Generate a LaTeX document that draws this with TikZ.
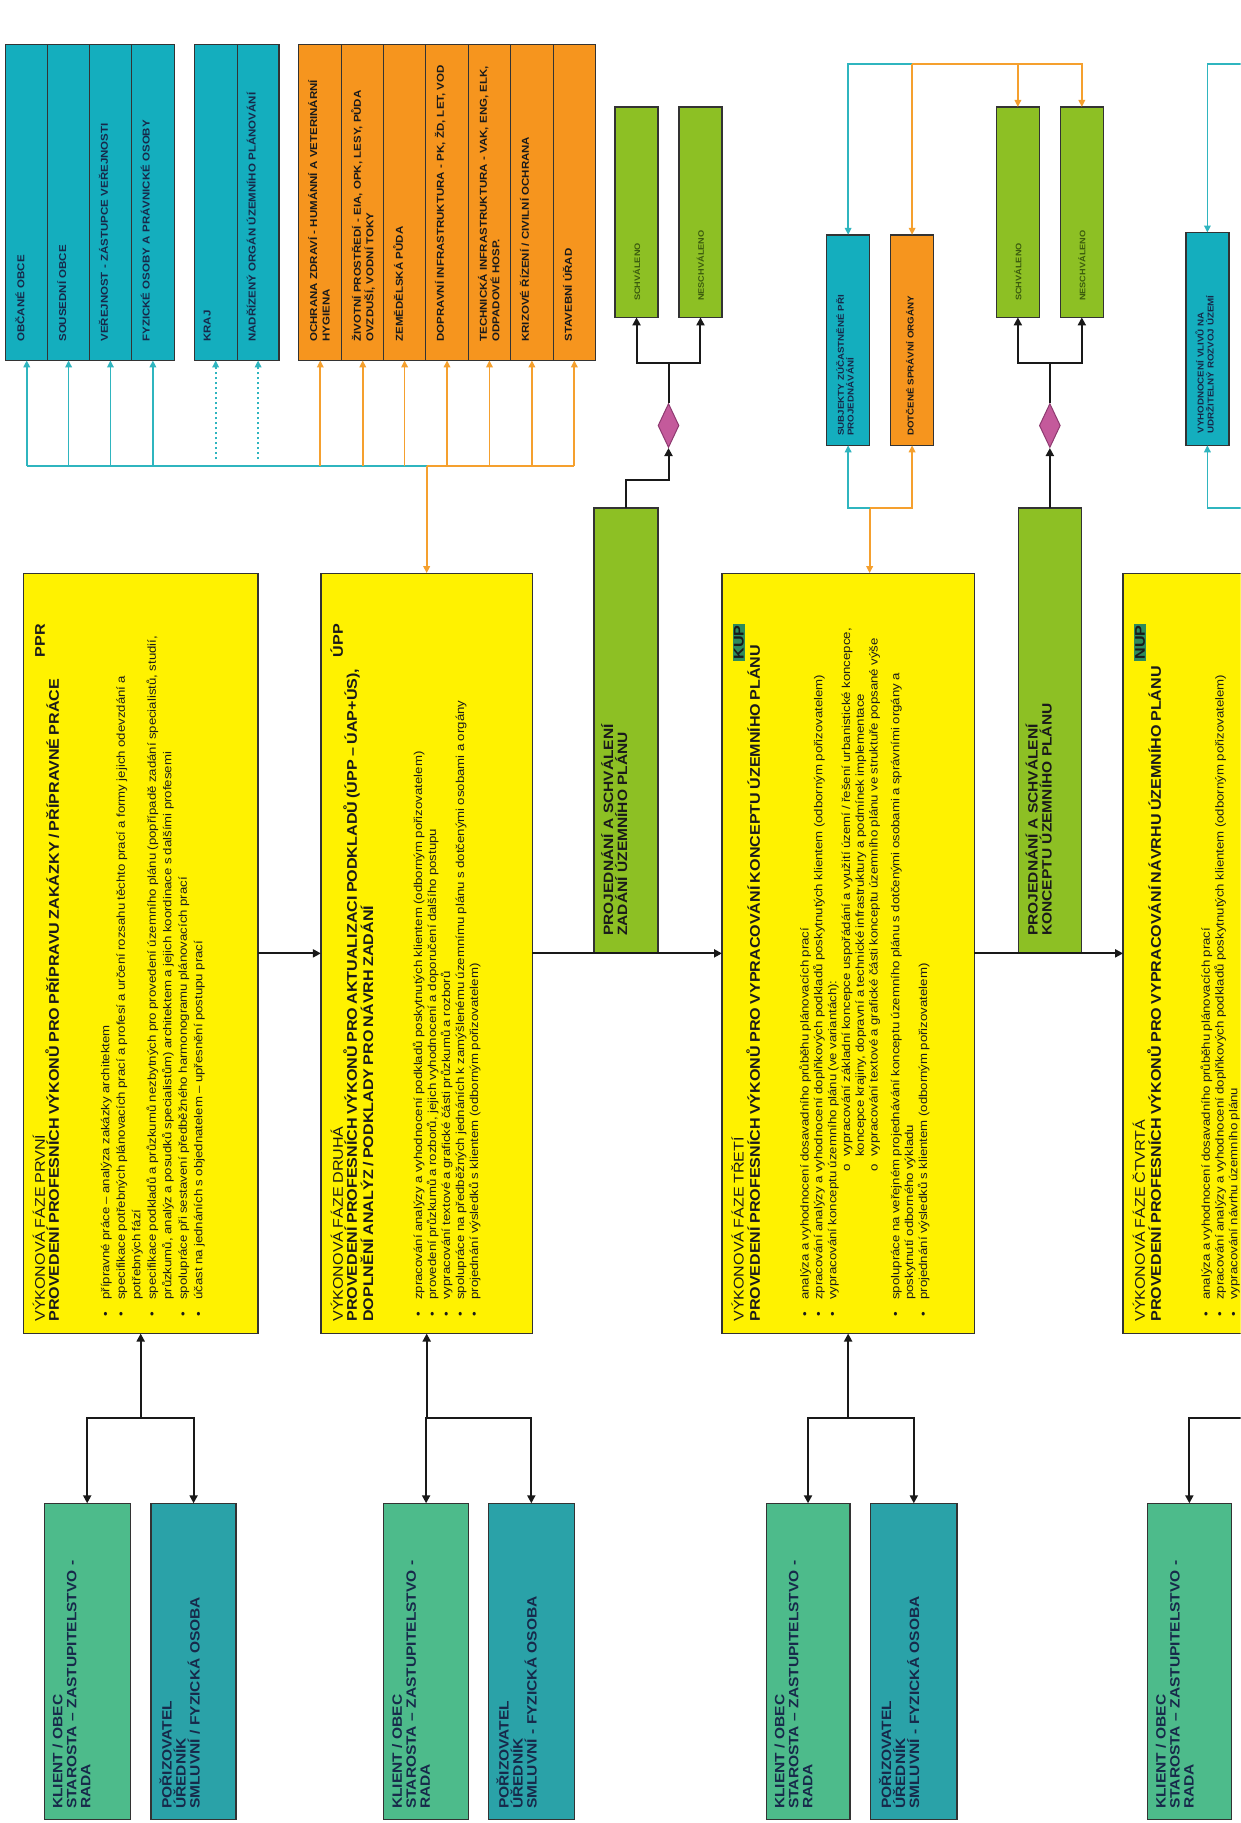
\documentclass[tikz,border=0pt]{standalone}
\usepackage{fontspec}
\setmainfont[FakeStretch=1.15]{Liberation Sans}
\usetikzlibrary{fit,shapes.geometric,arrows.meta,calc}
\definecolor{yel}{HTML}{FFF200}
\definecolor{cyF}{HTML}{14AEBE}
\definecolor{orF}{HTML}{F6951E}
\definecolor{grF}{HTML}{8DC024}
\definecolor{kF}{HTML}{4DBB8B}
\definecolor{pF}{HTML}{2AA2A8}
\definecolor{diaF}{HTML}{C45A9B}
\definecolor{diaD}{HTML}{8E3A70}
\definecolor{bord}{HTML}{333333}
\definecolor{cyL}{HTML}{2FB5BF}
\definecolor{orL}{HTML}{F5A02E}
\definecolor{badge}{HTML}{2E8A5C}
\definecolor{txtD}{HTML}{1A1A1A}
\definecolor{navy}{HTML}{17294A}
\definecolor{grT}{HTML}{3B5B0E}
\hyphenpenalty=10000
\exhyphenpenalty=10000
\newcommand\fs[2]{\fontsize{#1}{#2}\selectfont}
\newcommand\rfill{\hskip 0pt plus 1filll\relax}
\newcommand\bitem[1]{\par\hangindent=22pt\hangafter=1\noindent\makebox[22pt][l]{\hspace{5pt}\textbullet}#1\par}
\newcommand\sitem[1]{\par\hangindent=165pt\hangafter=1\noindent\makebox[165pt][l]{\hspace{150pt}o}#1\par}
\newcommand\badgebox[1]{{\setlength\fboxsep{1.5pt}\colorbox{badge}{\textbf{#1}}}}

\begin{document}
\begin{tikzpicture}[x=1.1631pt,y=-1.1631pt,
  box/.style={draw=bord, line width=1.3pt, inner sep=0pt, outer sep=0pt},
  ybox/.style={box, fill=yel},
  cbox/.style={box, fill=cyF},
  obox/.style={box, fill=orF},
  gbox/.style={box, fill=grF},
  kbox/.style={box, fill=kF},
  pbox/.style={box, fill=pF},
  vtxt/.style={rotate=90, anchor=north west, inner sep=0pt, align=left, text=txtD},
  coltxt/.style={vtxt, text width=300pt, font=\fs{10}{12.5}\bfseries},
  smalltxt/.style={vtxt, text width=170pt, font=\fs{8.5}{10}\bfseries},
  ytxt/.style={vtxt, text width=698pt},
  bigtxt/.style={vtxt, text width=300pt, font=\fs{13.5}{14}\bfseries},
  gsmall/.style={rotate=90, anchor=west, inner sep=0pt, font=\fs{8}{9}\bfseries, text=grT},
  dia/.style={diamond, fill=diaF, draw=diaD, line width=1pt, minimum width=21pt, minimum height=44pt, inner sep=0pt},
  bk/.style={draw=black!90, line width=2pt},
  cl/.style={draw=cyL, line width=1.8pt},
  ol/.style={draw=orL, line width=1.8pt},
  tip/.style={-{Triangle[length=8pt,width=8pt]}},
  rtip/.style={{Triangle[length=8pt,width=8pt]}-},
  ctip/.style={-{Triangle[length=7pt,width=6.5pt]}},
  dotline/.style={dash pattern=on 2.5pt off 2.5pt}
]
\useasboundingbox (0,0) rectangle (1067,1568);
\clip (0,0) rectangle (1067,1568);
\fill[white] (0,0) rectangle (1067,1568);

% ---------- top columns ----------
\node[cbox, fit={(5,38) (41,310)}] (cA) {};
\node[cbox, fit={(41,38) (77,310)}] (cB) {};
\node[cbox, fit={(77,38) (113,310)}] (cC) {};
\node[cbox, fit={(113,38) (150,310)}] (cD) {};
\node[cbox, fit={(167,38) (204,310)}] (cE) {};
\node[cbox, fit={(204,38) (240,310)}] (cF) {};
\node[obox, fit={(257,38) (294,310)}] (oA) {};
\node[obox, fit={(294,38) (330,310)}] (oB) {};
\node[obox, fit={(330,38) (366,310)}] (oC) {};
\node[obox, fit={(366,38) (403,310)}] (oD) {};
\node[obox, fit={(403,38) (439,310)}] (oE) {};
\node[obox, fit={(439,38) (476,310)}] (oF) {};
\node[obox, fit={(476,38) (512,310)}] (oG) {};

\node[coltxt, text=navy] (cAt) at ([shift={(8,-16)}]cA.south west) {OBČANÉ OBCE};
\node[coltxt, text=navy] (cBt) at ([shift={(8,-16)}]cB.south west) {SOUSEDNÍ OBCE};
\node[coltxt, text=navy] (cCt) at ([shift={(8,-16)}]cC.south west) {VEŘEJNOST - ZÁSTUPCE VEŘEJNOSTI};
\node[coltxt, text=navy] (cDt) at ([shift={(8,-16)}]cD.south west) {FYZICKÉ OSOBY A PRÁVNICKÉ OSOBY};
\node[coltxt, text=navy] (cEt) at ([shift={(8,-16)}]cE.south west) {KRAJ};
\node[coltxt, text=navy] (cFt) at ([shift={(8,-16)}]cF.south west) {NADŘÍZENÝ ORGÁN ÚZEMNÍHO PLÁNOVÁNÍ};
\node[coltxt] (oAt) at ([shift={(8,-16)}]oA.south west) {OCHRANA ZDRAVÍ - HUMÁNNÍ A VETERINÁRNÍ\\HYGIENA};
\node[coltxt] (oBt) at ([shift={(8,-16)}]oB.south west) {ŽIVOTNÍ PROSTŘEDÍ - EIA, OPK, LESY, PŮDA\\OVZDUŠÍ, VODNÍ TOKY};
\node[coltxt] (oCt) at ([shift={(8,-16)}]oC.south west) {ZEMĚDĚLSKÁ PŮDA};
\node[coltxt] (oDt) at ([shift={(8,-16)}]oD.south west) {DOPRAVNÍ INFRASTRUKTURA - PK, ŽD, LET, VOD};
\node[coltxt] (oEt) at ([shift={(8,-16)}]oE.south west) {TECHNICKÁ INFRASTRUKTURA - VAK, ENG, ELK,\\ODPADOVÉ HOSP.};
\node[coltxt] (oFt) at ([shift={(8,-16)}]oF.south west) {KRIZOVÉ ŘÍZENÍ / CIVILNÍ OCHRANA};
\node[coltxt] (oGt) at ([shift={(8,-16)}]oG.south west) {STAVEBNÍ ÚŘAD};

% ---------- green result boxes ----------
\node[gbox, fit={(529,92) (566,273)}] (ga) {};
\node[gbox, fit={(584,92) (621,273)}] (gb) {};
\node[gbox, fit={(857,92) (894,273)}] (gc) {};
\node[gbox, fit={(912,92) (949,273)}] (gd) {};
\node[gsmall] (gat) at ($(ga.south)+(0,-14)$) {SCHVÁLENO};
\node[gsmall] (gbt) at ($(gb.south)+(0,-14)$) {NESCHVÁLENO};
\node[gsmall] (gct) at ($(gc.south)+(0,-14)$) {SCHVÁLENO};
\node[gsmall] (gdt) at ($(gd.south)+(0,-14)$) {NESCHVÁLENO};

% ---------- small side boxes ----------
\node[cbox, fit={(711,202) (748,383)}] (s1) {};
\node[obox, fit={(766,202) (803,383)}] (s2) {};
\node[cbox, fit={(1020,200) (1057,383)}] (s3) {};
\node[smalltxt, text=navy] (s1t) at ([shift={(8,-8)}]s1.south west) {SUBJEKTY ZÚČASTNĚNÉ PŘI\\PROJEDNÁVÁNÍ};
\node[smalltxt] (s2t) at ([shift={(13,-8)}]s2.south west) {DOTČENÉ SPRÁVNÍ ORGÁNY};
\node[smalltxt, text=navy] (s3t) at ([shift={(8,-10)}]s3.south west) {VYHODNOCENÍ VLIVŮ NA\\UDRŽITELNÝ ROZVOJ ÚZEMÍ};

% ---------- diamonds ----------
\node[dia] (d1) at (575,366) {};
\node[dia] (d2) at (903,366) {};

% ---------- approval boxes ----------
\node[gbox, fit={(511,437) (566,820)}] (g1) {};
\node[gbox, fit={(876,437) (930,820)}] (g2) {};
\node[bigtxt] (g1t) at ([shift={(6,-15)}]g1.south west) {PROJEDNÁNÍ A SCHVÁLENÍ\\ZADÁNÍ ÚZEMNÍHO PLÁNU};
\node[bigtxt] (g2t) at ([shift={(6,-15)}]g2.south west) {PROJEDNÁNÍ A SCHVÁLENÍ\\KONCEPTU ÚZEMNÍHO PLÁNU};

% ---------- phase boxes ----------
\node[ybox, fit={(20,493) (222,1147)}] (p1) {};
\node[ybox, fit={(276,493) (458,1147)}] (p2) {};
\node[ybox, fit={(621,493) (838,1147)}] (p3) {};
\node[ybox, fit={(966,493) (1183,1147)}] (p4) {};

\node[ytxt] (p1t) at ([shift={(8,-10)}]p1.south west) {%
{\fs{14}{14}VÝKONOVÁ FÁZE PRVNÍ\rfill\textbf{PPR}\par
\textbf{PROVEDENÍ PROFESNÍCH VÝKONŮ PRO PŘÍPRAVU ZAKÁZKY / PŘÍPRAVNÉ PRÁCE}\par}
\vspace{35pt}
{\fs{11.5}{15.5}
\bitem{přípravné práce -- analýza zakázky architektem}
\bitem{specifikace potřebných plánovacích prací a profesí a určení rozsahu těchto prací a formy jejich odevzdání a potřebných fází}
\bitem{specifikace podkladů a průzkumů nezbytných pro provedení územního plánu (popřípadě zadání specialistů, studií, průzkumů, analýz a posudků specialistům) architektem a jejich koordinace s dalšími profesemi}
\bitem{spolupráce při sestavení předběžného harmonogramu plánovacích prací}
\bitem{účast na jednáních s objednatelem -- upřesnění postupu prací}}};

\node[ytxt] (p2t) at ([shift={(8,-10)}]p2.south west) {%
{\fs{14}{14}VÝKONOVÁ FÁZE DRUHÁ\rfill\textbf{ÚPP}\par
\textbf{PROVEDENÍ PROFESNÍCH VÝKONŮ PRO AKTUALIZACI PODKLADŮ (ÚPP – ÚAP+ÚS),}\par
\textbf{DOPLNĚNÍ ANALÝZ / PODKLADY PRO NÁVRH ZADÁNÍ}\par}
\vspace{35pt}
{\fs{11.5}{14}
\bitem{zpracování analýzy a vyhodnocení podkladů poskytnutých klientem (odborným pořizovatelem)}
\bitem{provedení průzkumů a rozborů, jejich vyhodnocení a doporučení dalšího postupu}
\bitem{vypracování textové a grafické části průzkumů a rozborů}
\bitem{spolupráce na předběžných jednáních k zamýšlenému územnímu plánu s dotčenými osobami a orgány}
\bitem{projednání výsledků s klientem (odborným pořizovatelem)}}};

\node[ytxt] (p3t) at ([shift={(8,-10)}]p3.south west) {%
{\fs{14}{14}VÝKONOVÁ FÁZE TŘETÍ\rfill\badgebox{KUP}\par
\textbf{PROVEDENÍ PROFESNÍCH VÝKONŮ PRO VYPRACOVÁNÍ KONCEPTU ÚZEMNÍHO PLÁNU}\par}
\vspace{35pt}
{\fs{11.5}{13.8}
\bitem{analýza a vyhodnocení dosavadního průběhu plánovacích prací}
\bitem{zpracování analýzy a vyhodnocení doplňkových podkladů poskytnutých klientem (odborným pořizovatelem)}
\bitem{vypracování konceptu územního plánu (ve variantách):}
\sitem{vypracování základní koncepce uspořádání a využití území / řešení urbanistické koncepce, koncepce krajiny, dopravní a technické infrastruktury a podmínek implementace}
\sitem{vypracování textové a grafické části konceptu územního plánu ve struktuře popsané výše}
\vspace{8pt}
\bitem{spolupráce na veřejném projednávání konceptu územního plánu s dotčenými osobami a správními orgány a poskytnutí odborného výkladu}
\bitem{projednání výsledků s klientem (odborným pořizovatelem)}}};

\node[ytxt] (p4t) at ([shift={(8,-10)}]p4.south west) {%
{\fs{14}{14}VÝKONOVÁ FÁZE ČTVRTÁ\rfill\badgebox{NUP}\par
\textbf{PROVEDENÍ PROFESNÍCH VÝKONŮ PRO VYPRACOVÁNÍ NÁVRHU ÚZEMNÍHO PLÁNU}\par}
\vspace{35pt}
{\fs{11.5}{13.8}
\bitem{analýza a vyhodnocení dosavadního průběhu plánovacích prací}
\bitem{zpracování analýzy a vyhodnocení doplňkových podkladů poskytnutých klientem (odborným pořizovatelem)}
\bitem{vypracování návrhu územního plánu}}};

% ---------- bottom boxes ----------
\node[kbox, fit={(38,1293) (112,1565)}] (k1) {};
\node[pbox, fit={(130,1293) (203,1565)}] (q1) {};
\node[kbox, fit={(330,1293) (403,1565)}] (k2) {};
\node[pbox, fit={(420,1293) (494,1565)}] (q2) {};
\node[kbox, fit={(659,1293) (731,1565)}] (k3) {};
\node[pbox, fit={(749,1293) (823,1565)}] (q3) {};
\node[kbox, fit={(987,1293) (1059,1565)}] (k4) {};

\foreach \k in {k1,k2,k3,k4} {
  \node[bigtxt, text=navy] (\k t) at ([shift={(7,-9)}]\k.south west) {KLIENT / OBEC\\STAROSTA – ZASTUPITELSTVO -\\RADA};
}
\node[bigtxt, text=navy] (q1t) at ([shift={(7,-9)}]q1.south west) {POŘIZOVATEL\\ÚŘEDNÍK\\SMLUVNÍ / FYZICKÁ OSOBA};
\node[bigtxt, text=navy] (q2t) at ([shift={(7,-9)}]q2.south west) {POŘIZOVATEL\\ÚŘEDNÍK\\SMLUVNÍ - FYZICKÁ OSOBA};
\node[bigtxt, text=navy] (q3t) at ([shift={(7,-9)}]q3.south west) {POŘIZOVATEL\\ÚŘEDNÍK\\SMLUVNÍ - FYZICKÁ OSOBA};

% ---------- connectors: top bus ----------
\coordinate (bj) at (p2.north |- 0,401);
\draw[cl] (cA.south |- bj) -- (bj);
\draw[ol] (bj) -- (oG.south |- bj);
\foreach \c in {cA,cB,cC,cD} {\draw[cl,ctip] (\c.south |- bj) -- (\c.south);}
\foreach \c in {cE,cF} {\draw[cl,dotline,ctip] ($(\c.south |- bj)+(0,-6)$) -- (\c.south);}
\foreach \c in {oA,oB,oC,oD,oE,oF,oG} {\draw[ol,ctip] (\c.south |- bj) -- (\c.south);}
\draw[ol,ctip] (bj) -- (p2.north);

% ---------- decisions ----------
\draw[bk,tip] (g1.north) -- ++(0,-24) -| (d1.south);
\coordinate (d1j) at (d1.north |- 0,312);
\draw[bk] (d1.north) -- (d1j);
\draw[bk,tip] (d1j) -| (ga.south);
\draw[bk,tip] (d1j) -| (gb.south);
\draw[bk,tip] (g2.north) -- (d2.south);
\coordinate (d2j) at (d2.north |- 0,312);
\draw[bk] (d2.north) -- (d2j);
\draw[bk,tip] (d2j) -| (gc.south);
\draw[bk,tip] (d2j) -| (gd.south);

% ---------- phase 3 side connectors ----------
\coordinate (p3j) at (748,437);
\draw[ol,ctip] (p3j) -- (p3j |- p3.north);
\draw[cl,ctip] (p3j) -| (s1.south);
\draw[ol,ctip] (p3j) -| (s2.south);
\coordinate (tj) at (s2.north |- 0,55);
\draw[cl,ctip] (tj) -| (s1.north);
\draw[ol,ctip] (tj) -- (s2.north);
\draw[ol,ctip] (tj) -| (gc.north);
\draw[ol,ctip] (tj) -| (gd.north);
\coordinate (rt) at (1080,55);
\coordinate (rb) at (1080,437);
\draw[cl,ctip] (rt) -| (s3.north);
\draw[cl,ctip] (rb) -| (s3.south);

% ---------- main flow ----------
\draw[bk,tip] (p1.east) -- (p2.west);
\draw[bk,tip] (p2.east) -- (p3.west);
\draw[bk,tip] (p3.east) -- (p4.west);

% ---------- bottom connectors ----------
\coordinate (j1) at (p1.south |- 0,1220);
\coordinate (j2) at (p2.south |- 0,1220);
\coordinate (j3) at (p3.south |- 0,1220);
\coordinate (j4) at (p4.south |- 0,1220);
\draw[bk,rtip] (p1.south) -- (j1);
\draw[bk,tip] (j1) -| (k1.north);
\draw[bk,tip] (j1) -| (q1.north);
\draw[bk,rtip] (p2.south) -- (j2);
\draw[bk,tip] (j2) -| (k2.north);
\draw[bk,tip] (j2) -| (q2.north);
\draw[bk,rtip] (p3.south) -- (j3);
\draw[bk,tip] (j3) -| (k3.north);
\draw[bk,tip] (j3) -| (q3.north);
\draw[bk,rtip] (p4.south) -- (j4);
\draw[bk,tip] (j4) -| (k4.north);
\end{tikzpicture}
\end{document}
